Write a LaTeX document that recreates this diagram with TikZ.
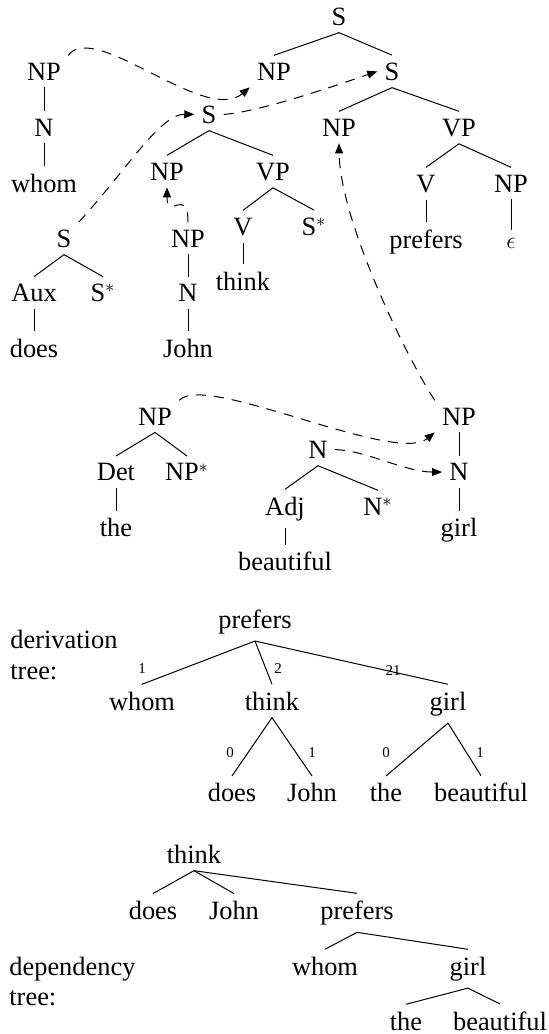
\documentclass[tikz,border=0pt]{standalone}
\usepackage{fontspec}
\setmainfont{Liberation Serif}
\usetikzlibrary{arrows.meta}
\begin{document}
\begin{tikzpicture}[x=0.5pt,y=-0.5pt,
  every node/.style={font=\fontsize{13.2}{15}\selectfont, inner sep=3.5pt, anchor=base},
  edge/.style={line width=0.5pt},
  mv/.style={line width=0.5pt, dash pattern=on 5pt off 4pt, -{Triangle[length=5pt,width=4pt]}},
  lab/.style={font=\fontsize{7.5}{9}\selectfont, inner sep=1pt},
  sidelabel/.style={anchor=base west, inner sep=0pt}]
\useasboundingbox (0,0) rectangle (549,1034);
% main tree (prefers)
\node (tS) at (339,25) {S};
\node (tNPa) at (274,80) {NP};
\node (tS2) at (392,80) {S};
\node (tNP3) at (339,136) {NP};
\node (tVP) at (459,136) {VP};
\node (tV) at (426,192) {V};
\node (tNPe) at (511,192) {NP};
\node (tprefers) at (426,248) {prefers};
\node (teps) at (511,248) {$\epsilon$};
\draw[edge] (tS.south) -- (tNPa.north);
\draw[edge] (tS.south) -- (tS2.north);
\draw[edge] (tS2.south) -- (tNP3.north);
\draw[edge] (tS2.south) -- (tVP.north);
\draw[edge] (tVP.south) -- (tV.north);
\draw[edge] (tVP.south) -- (tNPe.north);
\draw[edge] (tV.south) -- (tprefers.north);
\draw[edge] (tNPe.south) -- (teps.north);
% whom tree
\node (wNP) at (44,80) {NP};
\node (wN) at (44,136) {N};
\node (wwhom) at (44,192) {whom};
\draw[edge] (wNP.south) -- (wN.north);
\draw[edge] (wN.south) -- (wwhom.north);
% think tree
\node (kS) at (209,123) {S};
\node (kNP) at (167,180) {NP};
\node (kVP) at (273,180) {VP};
\node (kV) at (243,235) {V};
\node (kSs) at (314,235) {S$^*$};
\node (kthink) at (243,290) {think};
\draw[edge] (kS.south) -- (kNP.north);
\draw[edge] (kS.south) -- (kVP.north);
\draw[edge] (kVP.south) -- (kV.north);
\draw[edge] (kVP.south) -- (kSs.north);
\draw[edge] (kV.south) -- (kthink.north);
% does tree
\node (dS) at (64,247) {S};
\node (dAux) at (34,301.5) {Aux};
\node (dSs) at (103,301.5) {S$^*$};
\node (ddoes) at (34,357) {does};
\draw[edge] (dS.south) -- (dAux.north);
\draw[edge] (dS.south) -- (dSs.north);
\draw[edge] (dAux.south) -- (ddoes.north);
% John tree
\node (jNP) at (188,247) {NP};
\node (jN) at (188,301.5) {N};
\node (jJohn) at (188,357) {John};
\draw[edge] (jNP.south) -- (jN.north);
\draw[edge] (jN.south) -- (jJohn.north);
% the tree
\node (hNP) at (155,425) {NP};
\node (hDet) at (116,480.7) {Det};
\node (hNPs) at (187,480.7) {NP$^*$};
\node (hthe) at (116,536.7) {the};
\draw[edge] (hNP.south) -- (hDet.north);
\draw[edge] (hNP.south) -- (hNPs.north);
\draw[edge] (hDet.south) -- (hthe.north);
% beautiful tree
\node (bN) at (318,458.3) {N};
\node (bAdj) at (285,515) {Adj};
\node (bNs) at (378,515) {N$^*$};
\node (bbeau) at (285,570.7) {beautiful};
\draw[edge] (bN.south) -- (bAdj.north);
\draw[edge] (bN.south) -- (bNs.north);
\draw[edge] (bAdj.south) -- (bbeau.north);
% girl tree
\node (gNP) at (459,425) {NP};
\node (gN) at (459,480.7) {N};
\node (ggirl) at (459,536.7) {girl};
\draw[edge] (gNP.south) -- (gN.north);
\draw[edge] (gN.south) -- (ggirl.north);
% dashed operations
\draw[mv] (wNP.north east) .. controls (95,20) and (205,125) .. (tNPa.south west);
\draw[mv] (dS.north east) .. controls (125,172) and (160,114) .. (kS.west);
\draw[mv] (kS.east) .. controls (260,112) and (340,84) .. (tS2.west);
\draw[mv] (gNP.north west) .. controls (405,355) and (340,220) .. (tNP3.south);
\draw[mv] (jNP.north) .. controls (188,185) and (167,222) .. (kNP.south);
\draw[mv] (hNP.north east) .. controls (205,372) and (395,465) .. (gNP.south west);
\draw[mv] (bN.east) .. controls (365,450) and (405,472) .. (gN.west);
% derivation tree
\node[sidelabel] (derlab1) at (10,648) {derivation};
\node[sidelabel] (derlab2) at (10,679) {tree:};
\node (vprefers) at (255,628) {prefers};
\node (vwhom) at (142,710) {whom};
\node (vthink) at (272,710) {think};
\node (vgirl) at (448,710) {girl};
\node (vdoes) at (232,801.7) {does};
\node (vJohn) at (312,801.7) {John};
\node (vthe) at (386,801.7) {the};
\node (vbeau) at (481,801.7) {beautiful};
\draw[edge] (vprefers.south) -- (vwhom.north);
\draw[edge] (vprefers.south) -- (vthink.north);
\draw[edge] (vprefers.south) -- (vgirl.north);
\draw[edge] (vthink.south) -- (vdoes.north);
\draw[edge] (vthink.south) -- (vJohn.north);
\draw[edge] (vgirl.south) -- (vthe.north);
\draw[edge] (vgirl.south) -- (vbeau.north);
\node[lab] (l1) at (142,673) {1};
\node[lab] (l2) at (278,673) {2};
\node[lab] (l3) at (393,675) {21};
\node[lab] (l4) at (230,757) {0};
\node[lab] (l5) at (312,757) {1};
\node[lab] (l6) at (386,757) {0};
\node[lab] (l7) at (480,757) {1};
% dependency tree
\node[sidelabel] (deplab1) at (9,975) {dependency};
\node[sidelabel] (deplab2) at (9,1005) {tree:};
\node (pthink) at (194,863) {think};
\node (pdoes) at (153,919.3) {does};
\node (pJohn) at (234,919.3) {John};
\node (pprefers) at (357,919.3) {prefers};
\node (pwhom) at (325,975) {whom};
\node (pgirl) at (468,975) {girl};
\node (pthe) at (406,1030) {the};
\node (pbeau) at (500,1030) {beautiful};
\draw[edge] (pthink.south) -- (pdoes.north);
\draw[edge] (pthink.south) -- (pJohn.north);
\draw[edge] (pthink.south) -- (pprefers.north);
\draw[edge] (pprefers.south) -- (pwhom.north);
\draw[edge] (pprefers.south) -- (pgirl.north);
\draw[edge] (pgirl.south) -- (pthe.north);
\draw[edge] (pgirl.south) -- (pbeau.north);
\end{tikzpicture}
\end{document}
